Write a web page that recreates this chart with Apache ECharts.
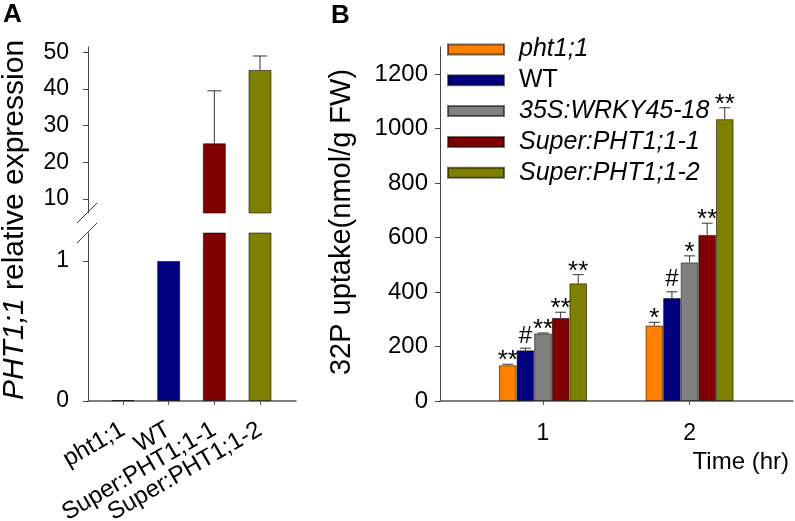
<!DOCTYPE html>
<html><head><meta charset="utf-8">
<script src="https://cdn.jsdelivr.net/npm/echarts@6/dist/echarts.min.js"></script>
<style>html,body{margin:0;padding:0;background:#fff}#c{width:795px;height:521px}</style>
</head><body><div id="c"></div>
<script>
// ---------- Panel A data ----------
const aCategories = ['pht1;1', 'WT', 'Super:PHT1;1-1', 'Super:PHT1;1-2'];
const aPositions = [1, 2, 3, 4];
const aValues = [0.006, 1.0, 25.2, 45.2];
const aErrors = [0, 0, 14.3, 3.8];
const aUpperTicks = [10, 20, 30, 40, 50];
const aLowerTicks = [0, 1];

// ---------- Panel B data ----------
const bTimes = [1, 2];
const bTimeLabels = ['1', '2'];
const bSeriesNames = ['pht1;1', 'WT', '35S:WRKY45-18', 'Super:PHT1;1-1', 'Super:PHT1;1-2'];
const bPht = [131, 277];
const bWT = [186, 378];
const bWRKY = [248, 509];
const bSuper1 = [305, 610];
const bSuper2 = [432, 1035];
const bPhtErr = [4, 12];
const bWTErr = [8, 23];
const bWRKYErr = [2, 24];
const bSuper1Err = [21, 43];
const bSuper2Err = [32, 42];
const bPhtSig = ['**', '*'];
const bWTSig = ['#', '#'];
const bWRKYSig = ['**', '*'];
const bSuper1Sig = ['**', '**'];
const bSuper2Sig = ['**', '**'];
const bYTicks = [0, 200, 400, 600, 800, 1000, 1200];

// ---------- styles ----------
const FONT = 'Liberation Sans, Arial, sans-serif';
const aColors = ['#FF8000', '#000080', '#800000', '#808000'];
const bColors = ['#FF8000', '#000080', '#808080', '#800000', '#808000'];
const AXIS_COLOR = '#444';
const BORDER = 'rgba(0,0,0,0.55)';
const A_BAR_W = 23;
const B_BAR_W = 17.6;

const bValues = [bPht, bWT, bWRKY, bSuper1, bSuper2];
const bErrors = [bPhtErr, bWTErr, bWRKYErr, bSuper1Err, bSuper2Err];
const bSigs = [bPhtSig, bWTSig, bWRKYSig, bSuper1Sig, bSuper2Sig];

const chart = echarts.init(document.getElementById('c'), null, {renderer: 'canvas'});

const aBarData = aPositions.map((x, i) => ({
  value: [x, aValues[i]],
  itemStyle: {color: aColors[i]}
}));
const aErrData = aPositions.map((x, i) => [x, aValues[i], aErrors[i]]);
const aLabelPosOdd = aPositions.filter((p, i) => i % 2 === 0);
const aLabelPosEven = aPositions.filter((p, i) => i % 2 === 1);
const aCatName = v => aCategories[aPositions.indexOf(Math.round(v))];

function aErrRender(params, api) {
  const e = api.value(2);
  if (!e) return null;
  const x = api.value(0), v = api.value(1);
  const p0 = api.coord([x, v]);
  const p1 = api.coord([x, v + e]);
  const st = {stroke: '#333', lineWidth: 1};
  return {type: 'group', children: [
    {type: 'line', shape: {x1: p0[0], y1: p0[1], x2: p1[0], y2: p1[1]}, style: st},
    {type: 'line', shape: {x1: p1[0] - 7, y1: p1[1], x2: p1[0] + 7, y2: p1[1]}, style: st}
  ]};
}

const bErrData = [];
bValues.forEach((vals, s) => vals.forEach((v, g) => bErrData.push([bTimes[g], v, bErrors[s][g], s, g])));

function bErrRender(params, api) {
  const x = api.value(0), v = api.value(1), e = api.value(2);
  const s = api.value(3), g = api.value(4);
  const off = (s - 2) * B_BAR_W;
  const p0 = api.coord([x, v]);
  const p1 = api.coord([x, v + e]);
  const cx = p0[0] + off;
  const st = {stroke: '#333', lineWidth: 1};
  const sig = bSigs[s][g];
  const isHash = sig.indexOf('#') >= 0;
  const dy = isHash ? 12 : 3;
  return {type: 'group', children: [
    {type: 'line', shape: {x1: cx, y1: p0[1], x2: cx, y2: p1[1]}, style: st},
    {type: 'line', shape: {x1: cx - 5.5, y1: p1[1], x2: cx + 5.5, y2: p1[1]}, style: st},
    {type: 'text', x: cx, y: p1[1] - dy, style: {text: sig, fontSize: isHash ? 24 : 26, fontFamily: FONT, fill: '#000', align: 'center', verticalAlign: 'middle'}}
  ]};
}

const commonValueAxis = {
  splitLine: {show: false},
  axisLine: {show: true, lineStyle: {color: AXIS_COLOR, width: 1}},
};
const plain = v => String(v);
const aCatLabel = {rotate: 30, margin: 27, fontSize: 24, color: '#000', fontFamily: FONT,
  hideOverlap: false, formatter: aCatName};

const option = {
  animation: false,
  backgroundColor: '#fff',
  textStyle: {fontFamily: FONT},
  grid: [
    {left: 88, top: 47, width: 208, height: 166, outerBoundsMode: 'none', containLabel: false},
    {left: 88, top: 233, width: 208, height: 168, outerBoundsMode: 'none', containLabel: false},
    {left: 440, top: 47, width: 353, height: 354, outerBoundsMode: 'none', containLabel: false}
  ],
  xAxis: [
    {gridIndex: 0, type: 'value', min: 0.2336, max: 4.788, show: false, splitLine: {show: false}},
    {gridIndex: 1, type: 'value', position: 'bottom', min: 0.2336, max: 4.788,
      splitLine: {show: false},
      axisLine: {show: true, onZero: false, lineStyle: {color: '#555', width: 1.5}},
      axisTick: {show: true, length: 4, customValues: aPositions, lineStyle: {color: '#555'}},
      axisLabel: Object.assign({customValues: aLabelPosOdd}, aCatLabel)
    },
    {gridIndex: 2, type: 'value', min: 0.297, max: 2.706,
      splitLine: {show: false},
      axisLine: {show: true, onZero: false, lineStyle: {color: '#555', width: 1.5}},
      axisTick: {show: true, length: 4, customValues: bTimes, lineStyle: {color: '#555'}},
      axisLabel: {customValues: bTimes, margin: 21, fontSize: 23, color: '#000', fontFamily: FONT,
        formatter: v => bTimeLabels[bTimes.indexOf(Math.round(v))]}
    },
    {gridIndex: 1, type: 'value', position: 'bottom', offset: 0, min: 0.2336, max: 4.788,
      splitLine: {show: false},
      axisLine: {show: false, onZero: false},
      axisTick: {show: false},
      axisLabel: Object.assign({customValues: aLabelPosEven}, aCatLabel)
    }
  ],
  yAxis: [
    Object.assign({}, commonValueAxis, {gridIndex: 0, type: 'value', min: 6.2, max: 51.45,
      axisTick: {show: true, length: 5, customValues: aUpperTicks, lineStyle: {color: AXIS_COLOR}},
      axisLabel: {customValues: aUpperTicks, margin: 19, fontSize: 23, color: '#000', fontFamily: FONT, formatter: plain}}),
    Object.assign({}, commonValueAxis, {gridIndex: 1, type: 'value', min: 0, max: 1.2,
      axisTick: {show: true, length: 5, customValues: aLowerTicks, lineStyle: {color: AXIS_COLOR}},
      axisLabel: {customValues: aLowerTicks, margin: 19, fontSize: 23, color: '#000', fontFamily: FONT, formatter: plain}}),
    Object.assign({}, commonValueAxis, {gridIndex: 2, type: 'value', min: 0, max: 1300,
      axisTick: {show: true, length: 5, customValues: bYTicks, lineStyle: {color: AXIS_COLOR}},
      axisLabel: {customValues: bYTicks, margin: 12, fontSize: 24, color: '#000', fontFamily: FONT, formatter: plain}})
  ],
  legend: {
    data: bSeriesNames,
    orient: 'vertical', left: 447, top: 37, padding: 0,
    itemWidth: 56, itemHeight: 10, itemGap: 5.8, icon: 'rect',
    selectedMode: false,
    formatter: name => name === 'WT' ? '{n|' + name + '}' : '{i|' + name + '}',
    textStyle: {color: '#000', fontSize: 25, fontFamily: FONT,
      rich: {
        i: {fontStyle: 'italic', fontSize: 25, lineHeight: 24, padding: [0, 0, 0, 10], fontFamily: FONT, color: '#000'},
        n: {fontSize: 25, lineHeight: 24, padding: [0, 0, 0, 10], fontFamily: FONT, color: '#000'}
      }}
  },
  series: [
    {name: 'A-upper', type: 'bar', xAxisIndex: 0, yAxisIndex: 0, barWidth: A_BAR_W, clip: true,
      itemStyle: {borderColor: BORDER, borderWidth: 1}, data: aBarData},
    {name: 'A-lower', type: 'bar', xAxisIndex: 1, yAxisIndex: 1, barWidth: A_BAR_W, clip: true,
      itemStyle: {borderColor: BORDER, borderWidth: 1}, data: aBarData},
    {name: 'A-err', type: 'custom', xAxisIndex: 0, yAxisIndex: 0, renderItem: aErrRender,
      encode: {x: 0, y: 1}, data: aErrData, z: 5}
  ].concat(bSeriesNames.map((name, s) => ({
    name: name, type: 'bar', xAxisIndex: 2, yAxisIndex: 2, barWidth: B_BAR_W, barGap: '0%',
    itemStyle: {color: bColors[s], borderColor: BORDER, borderWidth: 1},
    data: bTimes.map((t, g) => [t, bValues[s][g]])
  }))).concat([
    {name: 'B-err', type: 'custom', xAxisIndex: 2, yAxisIndex: 2, renderItem: bErrRender,
      encode: {x: 0, y: 1}, data: bErrData, z: 5}
  ]),
  graphic: [
    {type: 'text', left: 3, top: 2, style: {text: 'A', fontSize: 26, fontWeight: 'bold', fontFamily: FONT, fill: '#000'}},
    {type: 'text', left: 331, top: 3, style: {text: 'B', fontSize: 26, fontWeight: 'bold', fontFamily: FONT, fill: '#000'}},
    {type: 'text', x: 15, y: 220, rotation: Math.PI / 2,
      style: {text: '{i|PHT1;1}{n| relative expression}', align: 'center', verticalAlign: 'middle', fill: '#000',
        rich: {i: {fontStyle: 'italic', fontSize: 30, fontFamily: FONT, fill: '#000'}, n: {fontSize: 30, fontFamily: FONT, fill: '#000'}}}},
    {type: 'text', x: 342, y: 222, rotation: Math.PI / 2,
      style: {text: '32P uptake(nmol/g FW)', align: 'center', verticalAlign: 'middle', fontSize: 29, fontFamily: FONT, fill: '#000'}},
    {type: 'text', x: 789, y: 462,
      style: {text: 'Time (hr)', align: 'right', verticalAlign: 'middle', fontSize: 24, fontFamily: FONT, fill: '#000'}},
    {type: 'line', shape: {x1: 77, y1: 223, x2: 97, y2: 203}, style: {stroke: '#444', lineWidth: 1}},
    {type: 'line', shape: {x1: 77, y1: 243, x2: 97, y2: 223}, style: {stroke: '#444', lineWidth: 1}}
  ]
};
chart.setOption(option);
</script>
</body></html>
